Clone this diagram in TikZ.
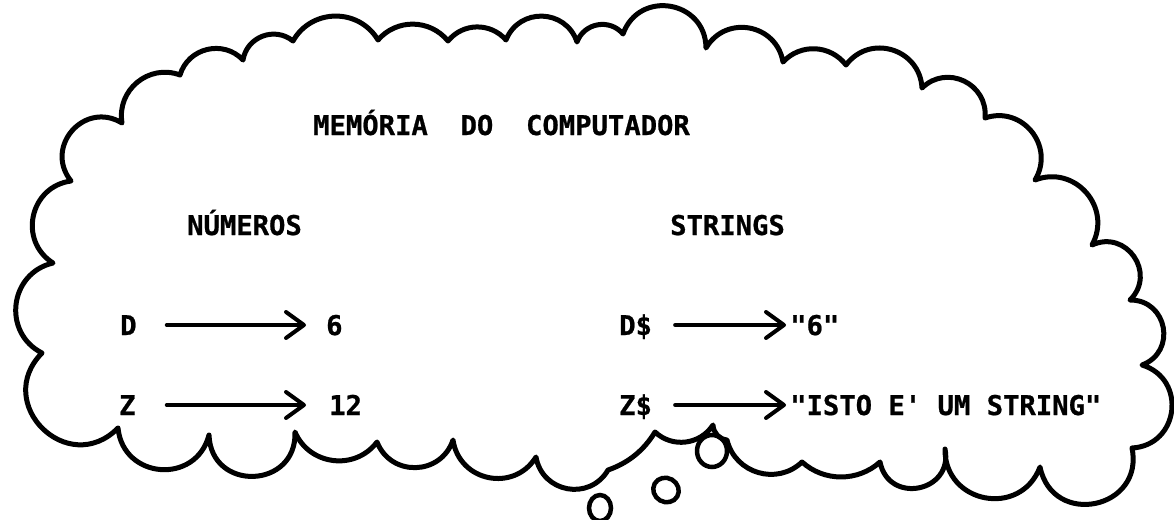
\documentclass[tikz,border=0pt]{standalone}
\usepackage{fontspec}
\setmonofont{DejaVu Sans Mono}[BoldFeatures={FakeBold=0.8}]
\usetikzlibrary{arrows.meta}
\begin{document}
\begin{tikzpicture}[x=1pt,y=-1pt,
  cloudline/.style={line width=5pt, line join=round, line cap=round},
  bubble/.style={line width=4.5pt},
  b4/.style={bend left=42, looseness=0.98},
  b5/.style={bend left=50, looseness=1.04},
  b6/.style={bend left=60, looseness=1.13},
  b7/.style={bend left=70, looseness=1.27},
  b8/.style={bend left=80, looseness=1.45},
  b9/.style={bend left=90, looseness=1.70},
  txt/.style={font=\fontsize{27.2}{31}\selectfont\ttfamily\bfseries,
    inner sep=0pt, text height=20pt, text depth=0pt, anchor=base west},
  arr/.style={line width=4pt, line cap=round,
    -{Straight Barb[round, length=18pt, width=26pt]}}]
\fill[white] (0,0) rectangle (1174,519);
\useasboundingbox (0,0) rectangle (1174,519);

% the thought cloud, traced clockwise from the lower left lobe
\draw[cloudline] (118,428) to[b9] (42,353) to[b7] (53,263) to[b7] (71,181)
  to[b8] (122,123) to[b6] (180,75) to[b6] (243,60) to[b6] (293,41)
  to[b6] (378,40) to[b5] (448,41) to[b5] (506,40) to[b7] (577,42)
  to[b6] (623,34) to[b8] (706,48) to[b7] (783,62) to[b5] (846,65)
  to[b7] (922,88) to[b7] (985,118) to[b7] (1035,180) to[b7] (1092,245)
  to[b8] (1130,300) to[b8] (1142,365) to[b8] (1132,448) to[b9] (1040,467)
  to[b8] (945,449) to[b9] (880,462) to[b4] (802,462) to[b6] (727,440)
  to[bend left=40] (713,425) to[b5] (655,432)
  to[bend left=20, looseness=0.9] (608,470) to[b7] (536,457)
  to[b7] (453,440) to[b7] (377,442) to[b6] (295,432) to[b9] (209,435)
  to[b8] (118,428);

% trailing bubbles
\draw[bubble] (712,451) circle[x radius=15pt, y radius=16pt];
\draw[bubble] (666,490) circle[x radius=13pt, y radius=12pt, rotate=-30];
\draw[bubble] (600,508) circle[x radius=11pt, y radius=13pt];

% labels
\node[txt] (title) at (313,135) {MEMÓRIA\ \ DO\ \ COMPUTADOR};
\node[txt] (num) at (187,235) {NÚMEROS};
\node[txt] (str) at (670,235) {STRINGS};

\node[txt] (d) at (120,335) {D};
\node[txt] (six) at (326,335) {6};
\node[txt] (z) at (119,415) {Z};
\node[txt] (twelve) at (329,415) {12};

\node[txt] (ds) at (619,335) {D\$};
\node[txt] (sixs) at (790,335) {"6"};
\node[txt] (zs) at (619,415) {Z\$};
\node[txt] (isto) at (790,415) {"ISTO E' UM STRING"};

% assignments
\draw[arr, shorten <=30pt, shorten >=20pt] (d) -- (six);
\draw[arr, shorten <=31pt, shorten >=23pt] (z) -- (twelve);
\draw[arr, shorten <=23pt, shorten >=4pt] (ds) -- (sixs);
\draw[arr, shorten <=23pt, shorten >=4pt] (zs) -- (isto);
\end{tikzpicture}
\end{document}
